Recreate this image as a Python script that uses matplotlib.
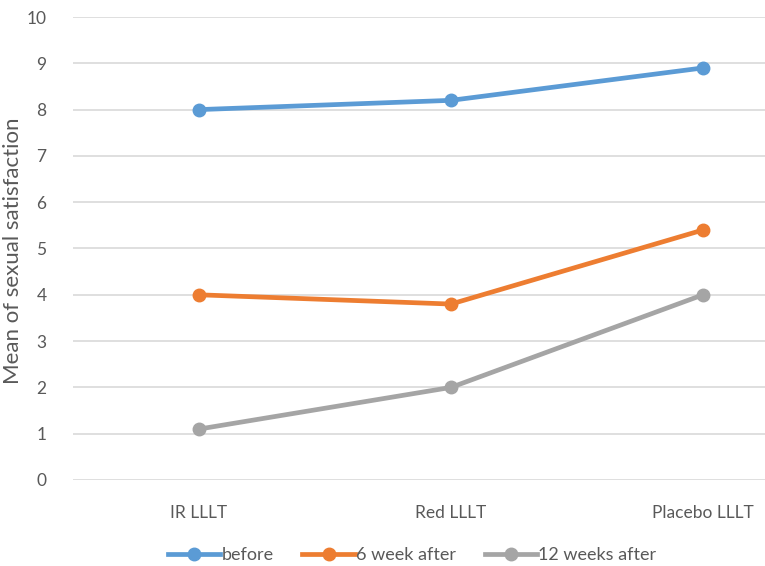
import matplotlib.pyplot as plt
from matplotlib.lines import Line2D

categories = ["IR LLLT", "Red LLLT", "Placebo LLLT"]
series_names = ["before", "6 week after", "12 weeks after"]
before = [8.0, 8.2, 8.9]
week6 = [4.0, 3.8, 5.4]
week12 = [1.1, 2.0, 4.0]
colors = ["#5B9BD5", "#ED7D31", "#A5A5A5"]

plt.rcParams['font.family'] = ['Lato', 'DejaVu Sans']
text_color = "#595959"

fig = plt.figure(figsize=(7.65, 5.66), dpi=100)
ax = fig.add_axes([73 / 765, 86 / 566, 756 / 765, 463 / 566])

x = list(range(len(categories)))
for name, vals, c in zip(series_names, [before, week6, week12], colors):
    ax.plot(x, vals, color=c, lw=3.4, marker="o", ms=9, label=name,
            solid_capstyle="round", zorder=3)

ax.set_xlim(-0.5, 2.5)
ax.set_ylim(0, 10)
ax.set_yticks(range(0, 11))
ax.set_xticks(x)
ax.set_xticklabels(categories)
ax.tick_params(axis="both", length=0, colors=text_color, labelsize=12.5)
ax.tick_params(axis="x", pad=18)
ax.tick_params(axis="y", pad=19)
ax.grid(axis="y", color="#D9D9D9", lw=1.2)
for s in ax.spines.values():
    s.set_visible(False)
ax.set_axisbelow(True)

fig.text(13 / 765, 1 - 251 / 566, "Mean of sexual satisfaction", rotation=90,
         ha="center", va="center", fontsize=16, color=text_color)

handles = [Line2D([], [], color=c, lw=3.4, marker="o", ms=9) for c in colors]
fig.legend(handles, series_names, loc="center", bbox_to_anchor=(412 / 765, 1 - 555 / 566),
           ncol=3, frameon=False, fontsize=13, labelcolor=text_color,
           handlelength=2.9, handletextpad=0.05, columnspacing=1.6)

fig.savefig("out.png", dpi=100)
